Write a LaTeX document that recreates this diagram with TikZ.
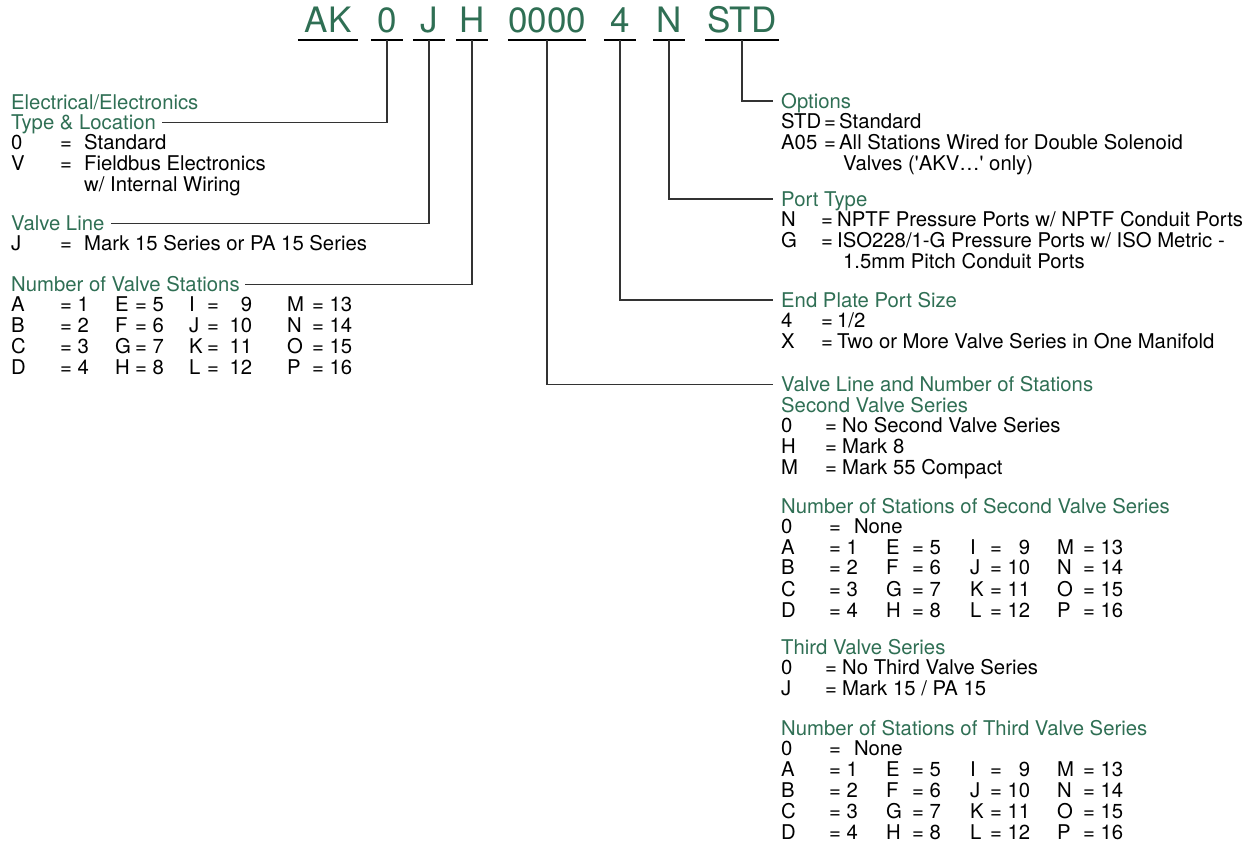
\documentclass[tikz,border=0pt]{standalone}
\usepackage{fontspec}
\setmainfont{TeX Gyre Heros}
\usetikzlibrary{positioning}
\definecolor{codegreen}{RGB}{47,111,84}
\setlength{\tabcolsep}{0pt}

\tikzset{
  code/.style={font=\fontsize{35}{36}\selectfont, text=codegreen, inner sep=0pt, text depth=7pt, anchor=base},
  hdr/.style={font=\fontsize{20.3}{20.2}\selectfont, text=codegreen, inner sep=0pt, text height=14.4pt, text depth=0pt, anchor=west},
  body/.style={font=\fontsize{20.3}{20.2}\selectfont, inner sep=0pt, anchor=base west},
  uline/.style={line width=2.2pt},
  link/.style={draw=black!80, line width=1.1pt}
}

% station table used twice on the right
\newcommand{\stationgrid}{%
\begin{tabular}[t]{@{}p{48pt}p{57pt}p{26pt}p{58pt}p{20pt}p{67pt}p{26pt}l@{}}
0 & \multicolumn{7}{l}{=\hspace{13pt}None}\\
A & = 1 & E & = 5 & I & = \phantom{1}9 & M & = 13\\
B & = 2 & F & = 6 & J & = 10 & N & = 14\\
C & = 3 & G & = 7 & K & = 11 & O & = 15\\
D & = 4 & H & = 8 & L & = 12 & P & = 16
\end{tabular}}

\begin{document}
\begin{tikzpicture}[x=1pt,y=-1pt]
\useasboundingbox (0,0) rectangle (1256,843);

%the code letters along the top
\node[code, minimum width=60pt] (cAK) at (328,33) {AK};
\node[code, minimum width=32pt] (c0) at (387,33) {0};
\node[code, minimum width=32pt] (cJ) at (429,33) {J};
\node[code, minimum width=32pt] (cH) at (472,33) {H};
\node[code, minimum width=78pt] (cZero) at (547,33) {0000};
\node[code, minimum width=32pt] (cFour) at (620,33) {4};
\node[code, minimum width=31pt] (cN) at (669,33) {N};
\node[code, minimum width=73pt] (cSTD) at (742,33) {STD};
\foreach \c in {cAK,c0,cJ,cH,cZero,cFour,cN,cSTD}
  \draw[uline] (\c.south west) -- (\c.south east);

%left column
\node[hdr] (hdrElec) at (11,102) {Electrical/Electronics};
\node[hdr] (hdrType) at (11,122.2) {Type \& Location};
\node[body] (typeBody) at ([yshift=-20.2pt]hdrType.base west) {%
\begin{tabular}[t]{@{}p{49pt}p{24pt}l@{}}
0 & = & Standard\\
V & = & Fieldbus Electronics\\
  &   & w/ Internal Wiring
\end{tabular}};

\node[hdr] (hdrValve) at (11,223.5) {Valve Line};
\node[body] (valveBody) at ([yshift=-20.2pt]hdrValve.base west) {%
\begin{tabular}[t]{@{}p{49pt}p{24pt}l@{}}
J & = & Mark 15 Series or PA 15 Series
\end{tabular}};

\node[hdr] (hdrNum) at (11,284.2) {Number of Valve Stations};
\node[body] (numBody) at ([yshift=-20.2pt]hdrNum.base west) {%
\begin{tabular}[t]{@{}p{49pt}p{55pt}p{20pt}p{54pt}p{18pt}p{80pt}p{25pt}l@{}}
A & = 1 & E & = 5 & I & = \hspace{5pt}\phantom{1}9 & M & = 13\\
B & = 2 & F & = 6 & J & = \hspace{5pt}10 & N & = 14\\
C & = 3 & G & = 7 & K & = \hspace{5pt}11 & O & = 15\\
D & = 4 & H & = 8 & L & = \hspace{5pt}12 & P & = 16
\end{tabular}};

%right column
\node[hdr] (hdrOpt) at (781,101) {Options};
\node[body] (optBody) at ([yshift=-20.2pt]hdrOpt.base west) {%
\begin{tabular}[t]{@{}p{43pt}p{15pt}l@{}}
STD & = & Standard\\
A05 & = & All Stations Wired for Double Solenoid\\
    &   & \hspace{4pt}Valves (\textquotesingle AKV\ldots\textquotesingle\ only)
\end{tabular}};

\node[hdr] (hdrPort) at (781,199) {Port Type};
\node[body] (portBody) at ([yshift=-20.2pt]hdrPort.base west) {%
\begin{tabular}[t]{@{}p{40pt}p{16pt}l@{}}
N & = & NPTF Pressure Ports w/ NPTF Conduit Ports\\
G & = & ISO228/1-G Pressure Ports w/ ISO Metric -\\
  &   & \hspace{6pt}1.5mm Pitch Conduit Ports
\end{tabular}};

\node[hdr] (hdrEnd) at (781,300) {End Plate Port Size};
\node[body] (endBody) at ([yshift=-20.2pt]hdrEnd.base west) {%
\begin{tabular}[t]{@{}p{40pt}p{16pt}l@{}}
4 & = & 1/2\\
X & = & Two or More Valve Series in One Manifold
\end{tabular}};

\node[hdr] (hdrVLN) at (781,384.6) {Valve Line and Number of Stations};
\node[hdr, anchor=base west] (hdrSec) at ([yshift=-20.2pt]hdrVLN.base west) {Second Valve Series};
\node[body] (secBody) at ([yshift=-20.2pt]hdrSec.base west) {%
\begin{tabular}[t]{@{}p{44pt}p{17pt}l@{}}
0 & = & No Second Valve Series\\
H & = & Mark 8\\
M & = & Mark 55 Compact
\end{tabular}};

\node[hdr] (hdrNumSec) at (781,505.8) {Number of Stations of Second Valve Series};
\node[body] (numSecBody) at ([yshift=-20.2pt]hdrNumSec.base west) {\stationgrid};

\node[hdr] (hdrThird) at (781,647.2) {Third Valve Series};
\node[body] (thirdBody) at ([yshift=-20.2pt]hdrThird.base west) {%
\begin{tabular}[t]{@{}p{44pt}p{17pt}l@{}}
0 & = & No Third Valve Series\\
J & = & Mark 15 / PA 15
\end{tabular}};

\node[hdr] (hdrNumThird) at (781,728) {Number of Stations of Third Valve Series};
\node[body] (numThirdBody) at ([yshift=-20.2pt]hdrNumThird.base west) {\stationgrid};

%connectors from the code letters
\draw[link, shorten >=6pt] (c0.south) |- (hdrType.east);
\draw[link, shorten >=6pt] (cJ.south) |- (hdrValve.east);
\draw[link, shorten >=5pt] (cH.south) |- (hdrNum.east);
\draw[link, shorten >=8pt] (cSTD.south) |- (hdrOpt.west);
\draw[link, shorten >=8pt] (cN.south) |- (hdrPort.west);
\draw[link, shorten >=8pt] (cFour.south) |- (hdrEnd.west);
\draw[link, shorten >=8pt] (cZero.south) |- (hdrVLN.west);
\end{tikzpicture}
\end{document}
